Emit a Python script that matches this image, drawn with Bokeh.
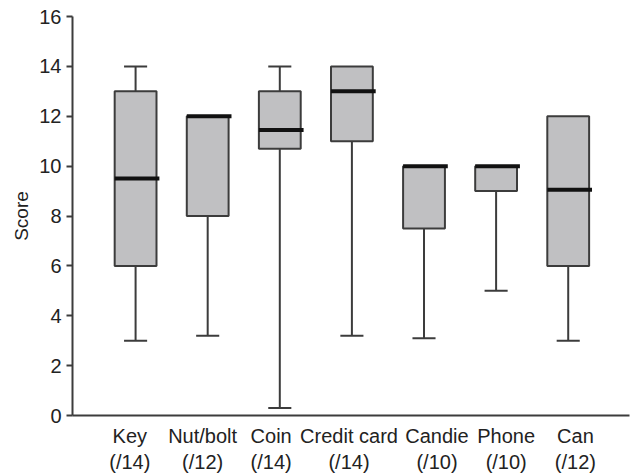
from bokeh.plotting import figure
from bokeh.models import ColumnDataSource, Range1d, FixedTicker
from bokeh.embed import file_html
from bokeh.resources import INLINE

categories = ["Key\n(/14)", "Nut/bolt\n(/12)", "Coin\n(/14)", "Credit card\n(/14)",
              "Candie\n(/10)", "Phone\n(/10)", "Can\n(/12)"]
low = [3.0, 3.2, 0.3, 3.2, 3.1, 5.0, 3.0]
q1 = [6.0, 8.0, 10.7, 11.0, 7.5, 9.0, 6.0]
median = [9.5, 12.0, 11.45, 13.0, 10.0, 10.0, 9.05]
q3 = [13.0, 12.0, 13.0, 14.0, 10.0, 10.0, 12.0]
high = [14.0, 12.0, 14.0, 14.0, 10.0, 10.0, 12.0]
y_ticks = [0, 2, 4, 6, 8, 10, 12, 14, 16]

# horizontal nudges of the category labels (fraction of a slot), as in the original layout
label_nudge = [-0.08, -0.07, -0.12, -0.04, 0.18, 0.14, 0.10]

xs = list(range(1, len(categories) + 1))
box_w = 0.58
cap_half = 0.16

src = ColumnDataSource(dict(x=xs, low=low, q1=q1, median=median, q3=q3, high=high,
                            x0=[x - cap_half for x in xs], x1=[x + cap_half for x in xs],
                            m0=[x - box_w / 2 for x in xs], m1=[x + box_w / 2 + 0.04 for x in xs]))
up_idx = [i for i in range(len(xs)) if high[i] > q3[i]]
src_up = ColumnDataSource(dict(x=[xs[i] for i in up_idx], q3=[q3[i] for i in up_idx],
                               high=[high[i] for i in up_idx],
                               x0=[xs[i] - cap_half for i in up_idx],
                               x1=[xs[i] + cap_half for i in up_idx]))

p = figure(width=634, height=475, output_backend="svg", toolbar_location=None,
           x_range=Range1d(0.125, 7.85), y_range=Range1d(0, 16),
           min_border_left=72, min_border_right=5, min_border_top=16, min_border_bottom=60)
p.outline_line_color = None
p.xgrid.visible = False
p.ygrid.visible = False
p.background_fill_color = "white"

line_c = "#3c3c3c"
# lower whiskers and caps
p.segment(x0="x", y0="low", x1="x", y1="q1", source=src, line_color=line_c, line_width=2)
p.segment(x0="x0", y0="low", x1="x1", y1="low", source=src, line_color=line_c, line_width=2)
# upper whiskers and caps
p.segment(x0="x", y0="q3", x1="x", y1="high", source=src_up, line_color=line_c, line_width=2)
p.segment(x0="x0", y0="high", x1="x1", y1="high", source=src_up, line_color=line_c, line_width=2)
# boxes
p.vbar(x="x", width=box_w, bottom="q1", top="q3", source=src,
       fill_color="#c0c0c2", line_color=line_c, line_width=2)
# medians
p.segment(x0="m0", y0="median", x1="m1", y1="median", source=src,
          line_color="#111111", line_width=4)

p.yaxis.ticker = FixedTicker(ticks=y_ticks)
p.yaxis.minor_tick_line_color = None
p.yaxis.major_tick_out = 6
p.yaxis.major_tick_in = 0
p.yaxis.axis_line_width = 2
p.yaxis.axis_line_color = line_c
p.yaxis.major_tick_line_color = line_c
p.yaxis.major_tick_line_width = 2
p.yaxis.major_label_text_font = "Liberation Sans"
p.yaxis.major_label_text_font_size = "20px"
p.yaxis.major_label_text_color = "#222222"
p.yaxis.major_label_standoff = 5
p.yaxis.axis_label = "Score"
p.yaxis.axis_label_text_font = "Liberation Sans"
p.yaxis.axis_label_text_font_size = "19px"
p.yaxis.axis_label_text_font_style = "normal"
p.yaxis.axis_label_text_color = "#222222"
p.yaxis.axis_label_standoff = 4

label_pos = [x + d for x, d in zip(xs, label_nudge)]
p.xaxis.ticker = FixedTicker(ticks=label_pos)
p.xaxis.major_label_overrides = {t: c for t, c in zip(label_pos, categories)}
p.xaxis.major_tick_line_color = None
p.xaxis.minor_tick_line_color = None
p.xaxis.axis_line_width = 2
p.xaxis.axis_line_color = line_c
p.xaxis.major_label_text_font = "Liberation Sans"
p.xaxis.major_label_text_font_size = "20px"
p.xaxis.major_label_text_color = "#222222"
p.xaxis.major_label_standoff = 3

open("out.html", "w").write(file_html(p, INLINE))
